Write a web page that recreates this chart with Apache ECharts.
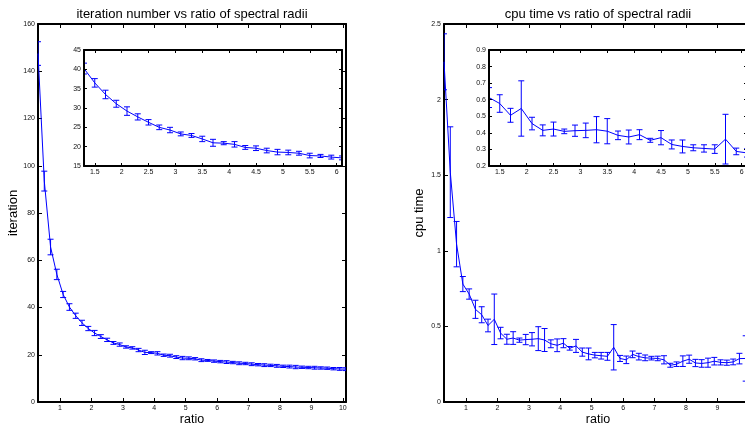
<!DOCTYPE html>
<html><head><meta charset="utf-8">
<script src="https://cdn.jsdelivr.net/npm/echarts@6/dist/echarts.min.js"></script>
<style>html,body{margin:0;padding:0;background:#fff}#c{width:745px;height:425px}</style>
</head><body><div id="c"></div>
<script>
const xs = [0.3,0.5,0.7,0.9,1.1,1.3,1.5,1.7,1.9,2.1,2.3,2.5,2.7,2.9,3.1,3.3,3.5,3.7,3.9,4.1,4.3,4.5,4.7,4.9,5.1,5.3,5.5,5.7,5.9,6.1,6.3,6.5,6.7,6.9,7.1,7.3,7.5,7.7,7.9,8.1,8.3,8.5,8.7,8.9,9.1,9.3,9.5,9.7,9.9,10.1];
const iterMean = [147.5,93.5,65.6,54.0,45.5,40.2,36.5,33.5,31.1,29.2,27.7,26.3,25.0,24.3,23.3,22.9,22.0,21.0,20.9,20.6,19.8,19.6,19.0,18.6,18.5,18.3,17.7,17.6,17.3,17.1,16.9,16.7,16.4,16.3,16.0,15.8,15.6,15.5,15.3,15.1,15.0,14.8,14.7,14.6,14.5,14.4,14.3,14.1,14.0,13.9];
const iterErr = [5.0,4.2,3.3,2.2,1.3,1.4,1.1,1.1,0.9,1.1,0.8,0.7,0.6,0.7,0.5,0.5,0.7,0.9,0.4,0.7,0.5,0.6,0.6,0.7,0.6,0.5,0.6,0.4,0.5,0.5,0.6,0.5,0.6,0.5,0.6,0.5,0.6,0.5,0.6,0.5,0.6,0.7,0.5,0.5,0.6,0.5,0.5,0.5,0.6,0.6];
const cpuMean = [2.25,1.52,1.044,0.78,0.714,0.613,0.577,0.506,0.547,0.456,0.415,0.423,0.409,0.413,0.415,0.419,0.41,0.385,0.375,0.389,0.355,0.371,0.33,0.318,0.31,0.306,0.302,0.362,0.288,0.279,0.315,0.30,0.292,0.29,0.288,0.279,0.243,0.25,0.27,0.283,0.258,0.255,0.26,0.27,0.262,0.26,0.265,0.287,0.288,0.29];
const cpuErr = [0.185,0.30,0.15,0.05,0.034,0.06,0.053,0.042,0.167,0.038,0.033,0.042,0.014,0.034,0.044,0.079,0.076,0.026,0.042,0.03,0.012,0.043,0.027,0.039,0.018,0.022,0.026,0.15,0.02,0.025,0.022,0.022,0.019,0.012,0.015,0.027,0.013,0.015,0.035,0.027,0.024,0.025,0.03,0.025,0.017,0.017,0.019,0.035,0.15,0.03];
const mainXTicks = [1,2,3,4,5,6,7,8,9,10];
const insetXTicks = [1.5,2,2.5,3,3.5,4,4.5,5,5.5,6];

const FONT = 'Liberation Sans, Arial, sans-serif';
const BLUE = '#0000ff';

const grids = [
  {left:38, top:24, width:308, height:378, outerBoundsMode:'none', containLabel:false},
  {left:84, top:50, width:258, height:116, z:10, show:true, backgroundColor:'#fff', borderWidth:0, outerBoundsMode:'none', containLabel:false},
  {left:444, top:24, width:308, height:378, outerBoundsMode:'none', containLabel:false},
  {left:489, top:50, width:258, height:116, z:10, show:true, backgroundColor:'#fff', borderWidth:0, outerBoundsMode:'none', containLabel:false}
];

function xAx(g, min, max, ticks, pos, label, tl, z, name) {
  return {
    type:'value', gridIndex:g, min:min, max:max, position:pos, z:z,
    name: name || '', nameLocation:'middle', nameGap:11, nameMoveOverlap:false,
    nameTextStyle:{fontSize:12.5, color:'#000', fontFamily:FONT},
    axisLine:{show:true, onZero:false, lineStyle:{color:'#000', width:2}},
    axisTick:{show:true, inside:true, length:tl, customValues:ticks, lineStyle:{color:'#000', width:1}},
    axisLabel:{show:label, customValues:ticks, fontSize:7, color:'#111', margin:3, fontFamily:FONT},
    splitLine:{show:false}
  };
}
function yAx(g, min, max, interval, pos, label, tl, z, name) {
  return {
    type:'value', gridIndex:g, min:min, max:max, interval:interval, position:pos, z:z,
    name: name || '', nameLocation:'middle', nameGap:18, nameRotate:90, nameMoveOverlap:false,
    nameTextStyle:{fontSize:13, color:'#000', fontFamily:FONT},
    axisLine:{show:true, onZero:false, lineStyle:{color:'#000', width:2}},
    axisTick:{show:true, inside:true, length:tl, lineStyle:{color:'#000', width:1}},
    axisLabel:{show:label, fontSize:7, color:'#111', margin:3, fontFamily:FONT},
    splitLine:{show:false}
  };
}

const xAxis = [
  xAx(0, 0.3, 10.1, mainXTicks, 'bottom', true, 4, 0, 'ratio'),
  xAx(0, 0.3, 10.1, mainXTicks, 'top', false, 4, 0),
  xAx(1, 1.3, 6.1, insetXTicks, 'bottom', true, 3, 12),
  xAx(1, 1.3, 6.1, insetXTicks, 'top', false, 3, 12),
  xAx(2, 0.3, 10.1, mainXTicks, 'bottom', true, 4, 0, 'ratio'),
  xAx(2, 0.3, 10.1, mainXTicks, 'top', false, 4, 0),
  xAx(3, 1.3, 6.1, insetXTicks, 'bottom', true, 3, 12),
  xAx(3, 1.3, 6.1, insetXTicks, 'top', false, 3, 12)
];
const yAxis = [
  yAx(0, 0, 160, 20, 'left', true, 4, 0, 'iteration'),
  yAx(0, 0, 160, 20, 'right', false, 4, 0),
  yAx(1, 15, 45, 5, 'left', true, 3, 12),
  yAx(1, 15, 45, 5, 'right', false, 3, 12),
  yAx(2, 0, 2.5, 0.5, 'left', true, 4, 0, 'cpu time'),
  yAx(2, 0, 2.5, 0.5, 'right', false, 4, 0),
  yAx(3, 0.2, 0.9, 0.1, 'left', true, 3, 12),
  yAx(3, 0.2, 0.9, 0.1, 'right', false, 3, 12)
];

function errRender(params, api) {
  const x = api.value(0), y = api.value(1), e = api.value(2);
  const t = api.coord([x, y + e]), b = api.coord([x, y - e]);
  const cw = 3;
  const st = {stroke:BLUE, lineWidth:1};
  return {type:'group', children:[
    {type:'line', shape:{x1:t[0], y1:t[1], x2:b[0], y2:b[1]}, style:st},
    {type:'line', shape:{x1:t[0]-cw, y1:t[1], x2:t[0]+cw, y2:t[1]}, style:st},
    {type:'line', shape:{x1:b[0]-cw, y1:b[1], x2:b[0]+cw, y2:b[1]}, style:st}
  ]};
}

const series = [];
[[0, iterMean, iterErr, 0, 2], [1, iterMean, iterErr, 2, 11], [2, cpuMean, cpuErr, 4, 2], [3, cpuMean, cpuErr, 6, 11]].forEach(function (d) {
  const mean = d[1], err = d[2], ax = d[3], z = d[4];
  series.push({
    type:'line', xAxisIndex:ax, yAxisIndex:ax, z:z, clip:true,
    data: xs.map(function (x, i) { return [x, mean[i]]; }),
    showSymbol:false, symbol:'none', lineStyle:{color:BLUE, width:1}, silent:true
  });
  series.push({
    type:'custom', xAxisIndex:ax, yAxisIndex:ax, z:z, clip:true,
    data: xs.map(function (x, i) { return [x, mean[i], err[i]]; }),
    renderItem: errRender, silent:true
  });
});

const chart = echarts.init(document.getElementById('c'));
chart.setOption({
  animation:false,
  backgroundColor:'#fff',
  grid: grids,
  xAxis: xAxis,
  yAxis: yAxis,
  series: series,
  graphic: [
    {type:'text', x:192, y:14, style:{text:'iteration number vs ratio of spectral radii', align:'center', verticalAlign:'middle', fontSize:13, fontFamily:FONT, fill:'#000'}},
    {type:'text', x:598, y:14, style:{text:'cpu time vs ratio of spectral radii', align:'center', verticalAlign:'middle', fontSize:13, fontFamily:FONT, fill:'#000'}}
  ]
});
</script>
</body></html>
